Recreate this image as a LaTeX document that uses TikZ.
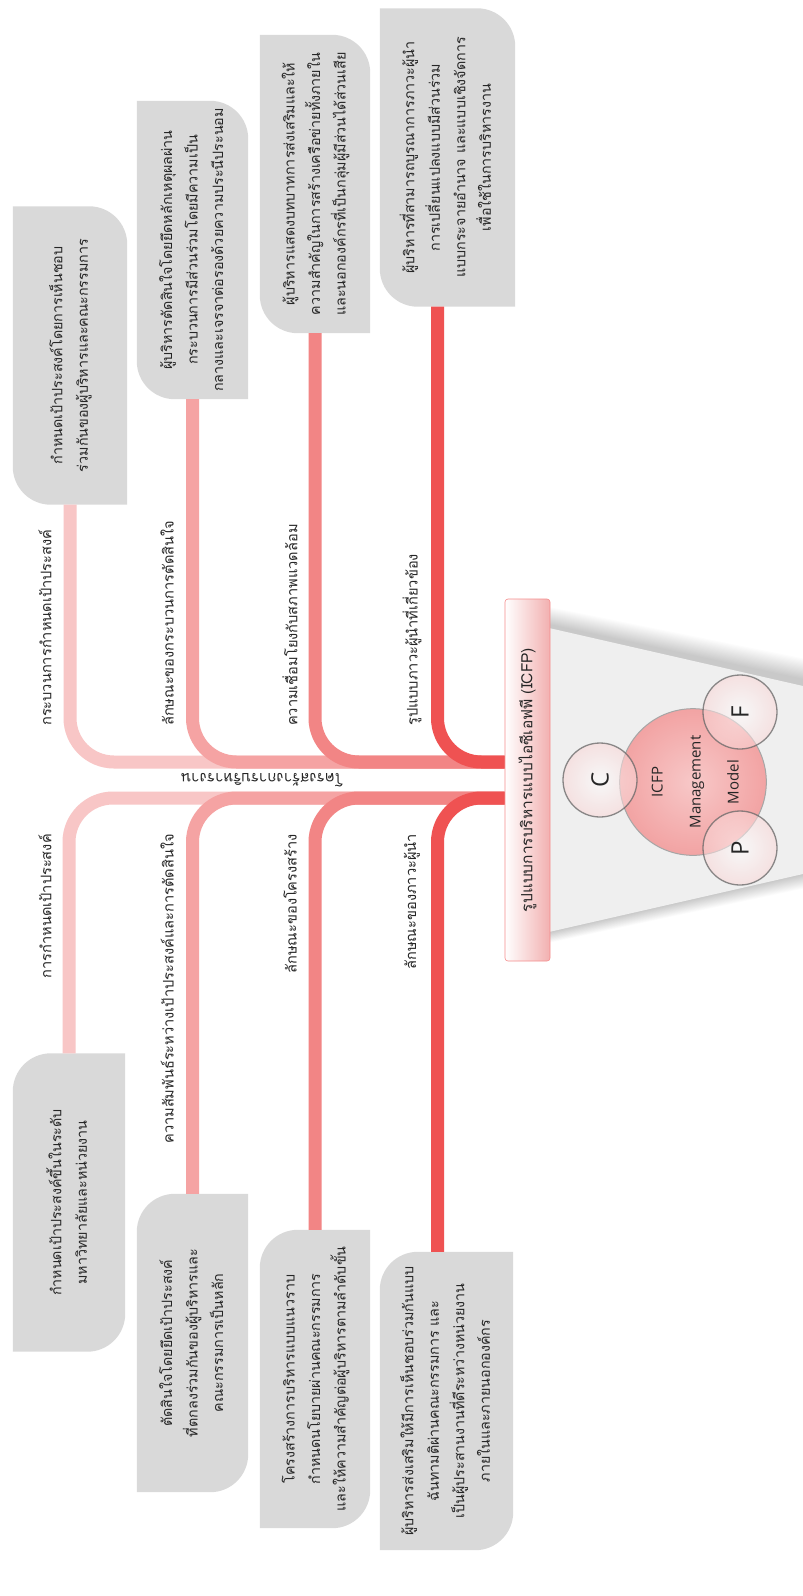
\documentclass[tikz,border=0pt]{standalone}
\usepackage{fontspec}
\usepackage{graphicx}
\newfontfamily\thaifont[Script=Thai]{Loma}
\newfontfamily\latinfont{Open Sans}
\usetikzlibrary{calc}
\pgfdeclarelayer{paper}
\pgfdeclarelayer{back}
\pgfsetlayers{paper,back,main}

\definecolor{cardgray}{HTML}{D9D9D9}
\definecolor{br1}{HTML}{F8C6C6}
\definecolor{br2}{HTML}{F5A3A3}
\definecolor{br3}{HTML}{F28585}
\definecolor{br4}{HTML}{EF5252}
\definecolor{barpink}{HTML}{F2B0B0}
\definecolor{beam}{HTML}{EFEFEF}
\definecolor{hubpink}{HTML}{F2A3A3}
\definecolor{ink}{HTML}{262626}

\tikzset{
  card/.style={inner sep=0pt, minimum height=298pt, text=ink,
    font=\thaifont\fontsize{14.3}{25.5}\selectfont},
  branch/.style={line width=13pt, rounded corners=44pt},
  tag/.style={font=\thaifont\fontsize{14.6}{18}\selectfont, text=ink,
    inner sep=0pt, rotate=90},
  spinetag/.style={font=\thaifont\fontsize{15}{16}\selectfont, text=ink,
    inner sep=0pt, rotate=180},
  rootbar/.style={rounded corners=3pt, left color=white, right color=barpink,
    draw=barpink!80!red, line width=0.6pt, minimum width=45pt,
    minimum height=362pt, inner sep=0pt, text=ink,
    font=\thaifont\fontsize{15.5}{18}\selectfont},
  hub/.style={circle, minimum size=144pt, inner sep=0pt,
    inner color=hubpink!60!white, outer color=hubpink,
    draw=gray!70, line width=1pt, text=ink,
    font=\latinfont\fontsize{15}{38}\selectfont},
  glass/.style={circle, minimum size=74pt, inner sep=0pt,
    inner color=white, outer color=hubpink!45, fill opacity=0.55,
    text opacity=1, draw=gray!80!black, draw opacity=0.75, line width=1.3pt,
    text=ink, font=\latinfont\fontsize{24}{26}\selectfont},
}

% card outline: top-right and bottom-left corners rounded
\newcommand\upcard[1]{%
  \fill[cardgray] (#1.north west) -- ($(#1.north east)+(-38,0)$)
    .. controls ($(#1.north east)+(-17,0)$) and ($(#1.north east)+(0,17)$) .. ($(#1.north east)+(0,38)$)
    -- (#1.south east) -- ($(#1.south west)+(38,0)$)
    .. controls ($(#1.south west)+(17,0)$) and ($(#1.south west)+(0,-17)$) .. ($(#1.south west)+(0,-38)$)
    -- cycle;}
% card outline: top-left and bottom-right corners rounded
\newcommand\lowcard[1]{%
  \fill[cardgray] ($(#1.north west)+(0,38)$)
    .. controls ($(#1.north west)+(0,17)$) and ($(#1.north west)+(17,0)$) .. ($(#1.north west)+(38,0)$)
    -- (#1.north east) -- ($(#1.south east)+(0,-38)$)
    .. controls ($(#1.south east)+(0,-17)$) and ($(#1.south east)+(-17,0)$) .. ($(#1.south east)+(-38,0)$)
    -- (#1.south west) -- cycle;}
\newcommand\lines[1]{\rotatebox{90}{\begin{tabular}{@{}c@{}}#1\end{tabular}}}

\begin{document}
\begin{tikzpicture}[x=1pt,y=-1pt]
\begin{pgfonlayer}{paper}
\fill[white] (0,0) rectangle (803,1596);
\end{pgfonlayer}
\useasboundingbox (0,0) rectangle (803,1596);

% ---- beam behind the model, with a soft shadow ----
\begin{pgfonlayer}{back}
\foreach \k in {1,...,18}{
  \fill[black, opacity=0.011] ({549},{628-3-\k}) -- ({803+\k},{686-6-\k})
     -- ({803+\k},{874+\k*0.6}) -- ({549},{932+\k*0.6}) -- cycle;}
\fill[beam] (549,628) -- (803,686) -- (803,874) -- (549,932) -- cycle;
\end{pgfonlayer}

% ---- root ----
\node[rootbar] (root) at (527.5,780) {\rotatebox{90}{รูปแบบการบริหารแบบไอซีเอฟพี (ICFP)}};
\coordinate (su) at ([yshift=18pt]root.west);
\coordinate (sl) at ([yshift=-18pt]root.west);

% ---- upper cards ----
\node[card, minimum width=114pt] (u1) at (70,355.5) {\lines{กำหนดเป้าประสงค์โดยการเห็นชอบ\\ร่วมกันของผู้บริหารและคณะกรรมการ}};
\node[card, minimum width=111pt] (u2) at (192.5,250) {\lines{ผู้บริหารตัดสินใจโดยยึดหลักเหตุผลผ่าน\\กระบวนการมีส่วนร่วมโดยมีความเป็น\\กลางและเจรจาต่อรองด้วยความประนีประนอม}};
\node[card, minimum width=110pt] (u3) at (315,184) {\lines{ผู้บริหารแสดงบทบาทการส่งเสริมและให้\\ความสำคัญในการสร้างเครือข่ายทั้งภายใน\\และนอกองค์กรที่เป็นกลุ่มผู้มีส่วนได้ส่วนเสีย}};
\node[card, minimum width=135pt] (u4) at (447.5,157.5) {\lines{ผู้บริหารที่สามารถบูรณาการภาวะผู้นำ\\การเปลี่ยนแปลงแบบมีส่วนร่วม\\แบบกระจายอำนาจ และแบบเชิงจัดการ\\เพื่อใช้ในการบริหารงาน}};

% ---- lower cards ----
\node[card, minimum width=112pt] (l1) at (69,1202.5) {\lines{กำหนดเป้าประสงค์ขึ้นในระดับ\\มหาวิทยาลัยและหน่วยงาน}};
\node[card, minimum width=111pt] (l2) at (192.5,1343) {\lines{ตัดสินใจโดยยึดเป้าประสงค์\\ที่ตกลงร่วมกันของผู้บริหารและ\\คณะกรรมการเป็นหลัก}};
\node[card, minimum width=110pt] (l3) at (315,1379) {\lines{โครงสร้างการบริหารแบบแนวราบ\\กำหนดนโยบายผ่านคณะกรรมการ\\และให้ความสำคัญต่อผู้บริหารตามลำดับขั้น}};
\node[card, minimum width=133pt] (l4) at (446.5,1401) {\lines{ผู้บริหารส่งเสริมให้มีการเห็นชอบร่วมกันแบบ\\ฉันทามติผ่านคณะกรรมการ และ\\เป็นผู้ประสานงานที่ดีระหว่างหน่วยงาน\\ภายในและภายนอกองค์กร}};

\begin{pgfonlayer}{back}
\upcard{u1}\upcard{u2}\upcard{u3}\upcard{u4}
\lowcard{l1}\lowcard{l2}\lowcard{l3}\lowcard{l4}
\end{pgfonlayer}

% ---- branches ----
\draw[branch, br1] (u1.south) |- (su);
\draw[branch, br1] (l1.north) |- (sl);
\draw[branch, br2] (u2.south) |- (su);
\draw[branch, br2] (l2.north) |- (sl);
\draw[branch, br3] (u3.south) |- (su);
\draw[branch, br3] (l3.north) |- (sl);
\draw[branch, br4] ([xshift=-10pt]u4.south) |- (su);
\draw[branch, br4] ([xshift=-9pt]l4.north) |- (sl);

% ---- branch labels ----
\node[tag, anchor=west] (t1) at (45,726) {กระบวนการกำหนดเป้าประสงค์};
\node[tag, anchor=west] (t2) at (167,726) {ลักษณะของกระบวนการตัดสินใจ};
\node[tag, anchor=west] (t3) at (290,726) {ความเชื่อมโยงกับสภาพแวดล้อม};
\node[tag, anchor=west] (t4) at (412,726) {รูปแบบภาวะผู้นำที่เกี่ยวข้อง};
\node[tag, anchor=east] (b1) at (45,834) {การกำหนดเป้าประสงค์};
\node[tag, anchor=east] (b2) at (167,834) {ความสัมพันธ์ระหว่างเป้าประสงค์และการตัดสินใจ};
\node[tag, anchor=east] (b3) at (290,834) {ลักษณะของโครงสร้าง};
\node[tag, anchor=east] (b4) at (412,834) {ลักษณะของภาวะผู้นำ};
\node[spinetag] (spine) at (262,780) {โครงสร้างการบริหารงาน};

% ---- model circles ----
\node[hub] (hubc) at (693,782) {\rotatebox{90}{\begin{tabular}{@{}c@{}}ICFP\\Management\\Model\end{tabular}}};
\node[glass] (cc) at (600,780) {\rotatebox{90}{C}};
\node[glass] (ff) at (740,712) {\rotatebox{90}{F}};
\node[glass] (pp) at (740,848) {\rotatebox{90}{P}};
\end{tikzpicture}
\end{document}
